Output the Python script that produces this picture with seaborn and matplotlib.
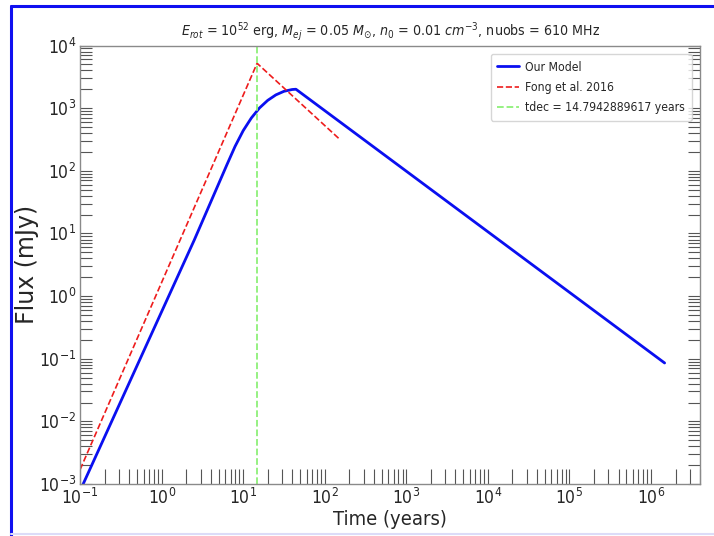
import matplotlib
matplotlib.use("Agg")
import matplotlib.pyplot as plt
from matplotlib.lines import Line2D
from matplotlib.ticker import FixedLocator, LogFormatterSciNotation
import numpy as np
import pandas as pd
import seaborn as sns

# Light curve of the merger-remnant radio flare (610 MHz)
model_time = [0.109, 2.51, 6.31, 7.94, 10.0, 12.59, 15.85, 19.95, 25.12,
              31.62, 39.81, 44.3, 1.47e6]
model_flux = [1e-3, 7.85, 124.9, 244.9, 438, 698, 1009, 1330, 1628,
              1858, 1984, 2004, 0.0855]

fong_time = [0.1, 14.7942889617, 147.94]
fong_flux = [1.7e-3, 5200, 330]

t_dec = 14.7942889617

x_decades = [1e-1, 1e0, 1e1, 1e2, 1e3, 1e4, 1e5, 1e6]
y_decades = [1e-3, 1e-2, 1e-1, 1e0, 1e1, 1e2, 1e3, 1e4]

title_text = (r"$E_{rot}$ = $10^{52}$ erg, $M_{ej}$ = 0.05 $M_{\odot}$, "
              r"$n_0$ = 0.01 $cm^{-3}$, nuobs = 610 MHz")

sns.set_style("white")
plt.rcParams.update({
    "font.family": ["DejaVu Sans"],
    "font.stretch": "condensed",
    "mathtext.fontset": "custom",
    "mathtext.rm": "DejaVu Sans:stretch=condensed",
    "mathtext.it": "DejaVu Sans:italic:stretch=condensed",
    "mathtext.bf": "DejaVu Sans:bold:stretch=condensed",
    "mathtext.sf": "DejaVu Sans:stretch=condensed",
    "mathtext.fallback": "stix",
})

fig = plt.figure(figsize=(7.14, 5.36), dpi=100)
ax = fig.add_axes([0.1122, 0.0970, 0.8683, 0.8181])

model_df = pd.DataFrame({"time": model_time, "flux": model_flux})
fong_df = pd.DataFrame({"time": fong_time, "flux": fong_flux})

sns.lineplot(data=model_df, x="time", y="flux", ax=ax, sort=False,
             color="#0a0ff0", linewidth=2.0, label="Our Model")
sns.lineplot(data=fong_df, x="time", y="flux", ax=ax, sort=False,
             color="#ee1c1c", linewidth=1.2, linestyle="--",
             label="Fong et al. 2016")
ax.axvline(t_dec, color="#8ef078", linewidth=1.3, linestyle="--",
           label=f"tdec = {t_dec} years")

ax.set_xscale("log")
ax.set_yscale("log")
ax.set_xlim(0.1, 4e6)
ax.set_ylim(1e-3, 1e4)

# one labelled tick per decade, eight minor ticks between decades
ax.xaxis.set_major_locator(FixedLocator(x_decades))
ax.yaxis.set_major_locator(FixedLocator(y_decades))
ax.xaxis.set_major_formatter(LogFormatterSciNotation())
ax.yaxis.set_major_formatter(LogFormatterSciNotation())
ax.xaxis.set_minor_locator(matplotlib.ticker.LogLocator(
    base=10, subs=np.arange(2, 10), numticks=20))
ax.yaxis.set_minor_locator(matplotlib.ticker.LogLocator(
    base=10, subs=np.arange(2, 10), numticks=20))
ax.xaxis.set_minor_formatter(matplotlib.ticker.NullFormatter())
ax.yaxis.set_minor_formatter(matplotlib.ticker.NullFormatter())

ax.set_xlabel("Time (years)", fontsize=14.5, labelpad=2)
ax.set_ylabel("Flux (mJy)", fontsize=17, fontstretch="normal")
ax.yaxis.set_label_coords(-0.066, 0.5)
ax.set_title(title_text, fontsize=10.2, pad=7)

for side in ["left", "right", "bottom", "top"]:
    ax.spines[side].set_color("#8a8a8a")
    ax.spines[side].set_linewidth(1.0)

ax.tick_params(axis="x", which="both", direction="in", length=10.8,
               width=0.8, color="#555555", top=False, bottom=True,
               labelsize=12.5, pad=2.5)
ax.tick_params(axis="y", which="both", direction="in", length=8.6,
               width=0.8, color="#555555", left=True, right=True,
               labelsize=12.5, pad=3)

leg = ax.legend(loc="upper right", fontsize=8.7, handlelength=1.8,
                handletextpad=0.5, borderpad=0.55, labelspacing=0.6,
                frameon=True, borderaxespad=0.7)
leg.get_frame().set_edgecolor("#cccccc")

# outer frame around the figure
W, H = 714, 536
frame = dict(transform=fig.transFigure, linewidth=2.2, color="#1010f0")
fig.add_artist(Line2D([11.5 / W, 11.5 / W], [1 - 6 / H, 0], **frame))
fig.add_artist(Line2D([11.5 / W, 1], [1 - 6 / H, 1 - 6 / H], **frame))
fig.add_artist(Line2D([11.5 / W, 1], [1 - 533.5 / H, 1 - 533.5 / H],
                      transform=fig.transFigure, linewidth=1.5,
                      color="#dcdcf8"))

fig.savefig("out.png", dpi=100)
